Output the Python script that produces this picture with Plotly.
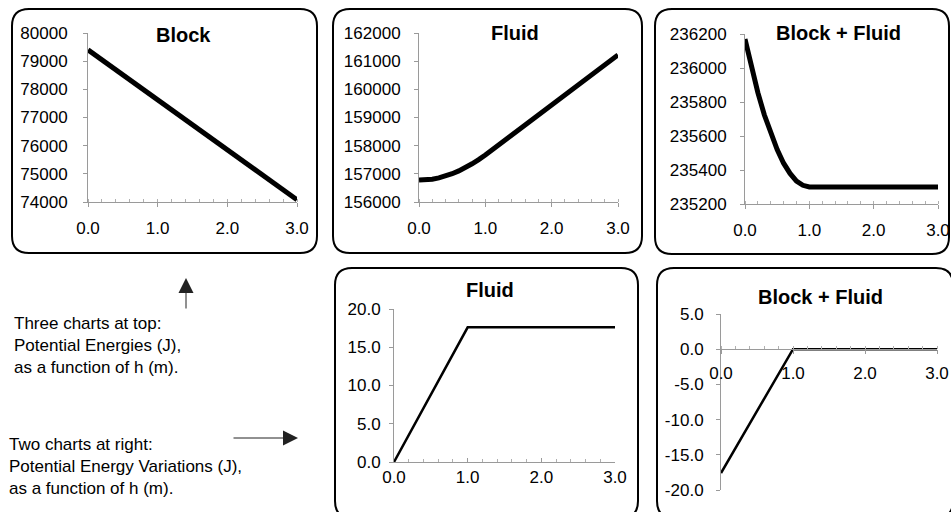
import plotly.graph_objects as go

# ---------------- data ----------------
h_block = [0.0, 3.0]
block_pe = [79400, 74080]

h_top = [0.0, 0.1, 0.2, 0.3, 0.4, 0.5, 0.6, 0.7, 0.8, 0.9, 1.0, 1.5, 2.0, 2.5, 3.0]
fluid_pe = [156780, 156785, 156810, 156855, 156920, 157005, 157105, 157220, 157355,
            157505, 157670, 158555, 159440, 160330, 161220]
total_pe = [236170, 236005, 235855, 235725, 235615, 235520, 235440, 235380, 235335,
            235310, 235300, 235300, 235300, 235300, 235300]

h_var = [0.0, 1.0, 3.0]
fluid_var = [0.0, 17.6, 17.6]
total_var = [-17.6, 0.0, 0.0]

x_ticks = [0, 1, 2, 3]
x_ticklabels = ["0.0", "1.0", "2.0", "3.0"]

y_ticks = [
    [74000, 75000, 76000, 77000, 78000, 79000, 80000],
    [156000, 157000, 158000, 159000, 160000, 161000, 162000],
    [235200, 235400, 235600, 235800, 236000, 236200],
    [0, 5, 10, 15, 20],
    [-20, -15, -10, -5, 0, 5],
]
y_ticklabels = [
    ["74000", "75000", "76000", "77000", "78000", "79000", "80000"],
    ["156000", "157000", "158000", "159000", "160000", "161000", "162000"],
    ["235200", "235400", "235600", "235800", "236000", "236200"],
    ["0.0", "5.0", "10.0", "15.0", "20.0"],
    ["-20.0", "-15.0", "-10.0", "-5.0", "0.0", "5.0"],
]

titles = ["Block", "Fluid", "Block + Fluid", "Fluid", "Block + Fluid"]
note_top = "Three charts at top:<br>Potential Energies (J),<br>as a function of h (m)."
note_right = "Two charts at right:<br>Potential Energy Variations (J),<br>as a function of h (m)."

# ---------------- layout helpers ----------------
W, H = 951, 512
FONT = "Liberation Sans, Arial, sans-serif"


def px(x):
    return x / W


def py(y):
    return 1 - y / H


fig = go.Figure()

panels = [
    # (xs, ys, plot x0,x1, y_top,y_bot, yrange, linewidth, ylabel gap, xlabel standoff, xticks)
    (h_block, block_pe, 88, 297, 33, 202, [74000, 80000], 5, 12, 7, "outside"),
    (h_top, fluid_pe, 419, 618, 33, 202, [156000, 162000], 5, 10, 7, "outside"),
    (h_top, total_pe, 745, 938, 34, 204, [235200, 236200], 5, 10, 7, "outside"),
    (h_var, fluid_var, 394, 615, 309, 462, [0, 20], 2.5, 5, 0, "inside"),
    (h_var, total_var, 721, 937, 314, 490, [-20, 5], 2.5, 9, 4, "outside"),
]

for i, (xs, ys, x0, x1, yt, yb, yr, lw, ygap, xsoff, xt) in enumerate(panels):
    n = "" if i == 0 else str(i + 1)
    fig.add_trace(go.Scatter(x=xs, y=ys, mode="lines",
                             line=dict(color="black", width=lw),
                             xaxis="x" + n, yaxis="y" + n, showlegend=False,
                             hoverinfo="skip"))
    xa = dict(domain=[px(x0), px(x1)], range=[0, 3], tickvals=x_ticks,
              ticktext=x_ticklabels, showgrid=False, zeroline=False,
              showline=True, linecolor="#9a9a9a", linewidth=1,
              ticks=xt, ticklen=4, tickcolor="#9a9a9a",
              minor=dict(dtick=0.2, ticks="inside", ticklen=3, tickcolor="#b0b0b0"),
              tickfont=dict(size=17, color="black", family=FONT),
              ticklabelstandoff=xsoff, automargin=False, fixedrange=True)
    ya = dict(domain=[py(yb), py(yt)], range=yr, tickvals=y_ticks[i],
              ticktext=y_ticklabels[i], showgrid=False, zeroline=False,
              showline=True, linecolor="#9a9a9a", linewidth=1,
              ticks="outside", ticklen=4, tickcolor="#9a9a9a",
              tickfont=dict(size=17, color="black", family=FONT),
              ticklabelstandoff=ygap, automargin=False, fixedrange=True)
    if i == 4:
        # x axis crosses at y = 0
        zero_px = yt + (yr[1] - 0) / (yr[1] - yr[0]) * (yb - yt)
        xa.update(anchor="free", position=py(zero_px))
    else:
        xa.update(anchor="y" + n)
    ya.update(anchor="x" + n)
    fig.update_layout(**{"xaxis" + n: xa, "yaxis" + n: ya})

# ---------------- rounded frames ----------------
def rounded(x0, y0, x1, y1, r=17):
    rx, ry = r / W, r / H
    X0, X1 = px(x0), px(x1)
    Y0, Y1 = py(y0), py(y1)  # Y0 top (higher), Y1 bottom
    return (f"M {X0 + rx},{Y0} L {X1 - rx},{Y0} Q {X1},{Y0} {X1},{Y0 - ry} "
            f"L {X1},{Y1 + ry} Q {X1},{Y1} {X1 - rx},{Y1} "
            f"L {X0 + rx},{Y1} Q {X0},{Y1} {X0},{Y1 + ry} "
            f"L {X0},{Y0 - ry} Q {X0},{Y0} {X0 + rx},{Y0} Z")


frames = [(12, 9, 317, 253), (333, 9, 642, 253), (655, 9, 949, 254),
          (335, 268, 638, 518), (657, 268, 953, 518)]
for (a, b, c, d) in frames:
    fig.add_shape(type="path", path=rounded(a, b, c, d), xref="paper", yref="paper",
                  line=dict(color="black", width=2), fillcolor="rgba(0,0,0,0)",
                  layer="below")

# ---------------- titles ----------------
title_pos = [(183, 35), (515, 33), (838, 33), (490, 290), (820, 297)]
for t, (cx, cy) in zip(titles, title_pos):
    fig.add_annotation(text="<b>" + t + "</b>", x=px(cx), y=py(cy), xref="paper",
                       yref="paper", showarrow=False, xanchor="center", yanchor="middle",
                       font=dict(size=20, color="black", family=FONT))

# ---------------- notes and arrows ----------------
fig.add_annotation(text=note_top, x=px(12), y=py(312), xref="paper", yref="paper",
                   showarrow=False, xanchor="left", yanchor="top", align="left",
                   font=dict(size=17, color="black", family=FONT))
fig.add_annotation(text=note_right, x=px(7), y=py(433), xref="paper", yref="paper",
                   showarrow=False, xanchor="left", yanchor="top", align="left",
                   font=dict(size=17, color="black", family=FONT))

fig.add_annotation(x=px(186), y=py(278), xref="paper", yref="paper", text="",
                   showarrow=True, ax=0, ay=32, arrowhead=2, arrowsize=3,
                   arrowwidth=1, arrowcolor="#222")
fig.add_annotation(x=px(298), y=py(438), xref="paper", yref="paper", text="",
                   showarrow=True, ax=-66, ay=0, arrowhead=2, arrowsize=3,
                   arrowwidth=1, arrowcolor="#222")

fig.update_layout(width=W, height=H, margin=dict(l=0, r=0, t=0, b=0, autoexpand=False),
                  paper_bgcolor="white", plot_bgcolor="white",
                  font=dict(family=FONT, color="black"), showlegend=False)

fig.write_html("out.html", config={"displayModeBar": False},
               post_script="document.body.style.margin='0';document.body.style.overflow='hidden';")
